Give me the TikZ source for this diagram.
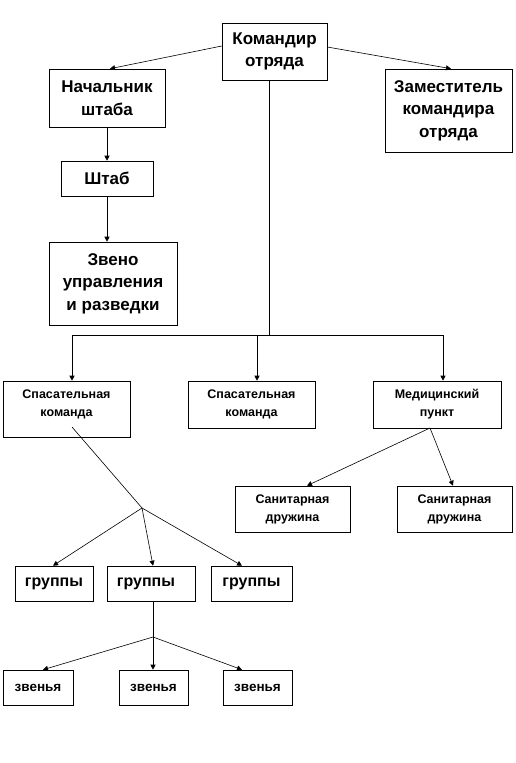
\documentclass[tikz,border=0pt]{standalone}
\usepackage{fontspec}
\setmainfont{Liberation Sans}
\usetikzlibrary{arrows.meta}
\begin{document}
\begin{tikzpicture}[x=1pt,y=-1pt,
  box/.style={draw, line width=0.6pt, inner sep=0pt, align=center, font=\bfseries, anchor=center},
  big/.style={font=\bfseries\fontsize{17}{22.5}\selectfont},
  small/.style={font=\bfseries\fontsize{12.5}{18}\selectfont},
  grp/.style={font=\bfseries\fontsize{16}{18}\selectfont},
  zv/.style={font=\bfseries\fontsize{13.5}{16}\selectfont},
  conn/.style={line width=0.6pt},
  arr/.style={line width=0.6pt, -{Triangle[length=5pt,width=5pt]}}]
\useasboundingbox (0,0) rectangle (515,763);

% boxes
\node[box, big, minimum width=105, minimum height=57] (cmd) at (274.5,51.5) {Командир\\отряда};
\node[box, big, minimum width=116, minimum height=58] (nsh) at (107,98) {Начальник\\штаба};
\node[box, big, minimum width=127, minimum height=83] (zam) at (448.5,110.5) {Заместитель\\командира\\отряда};
\node[box, big, minimum width=92, minimum height=35] (shtab) at (107,178.5) {Штаб};
\node[box, big, minimum width=128, minimum height=83] (zveno) at (113,283.5) {Звено\\управления\\и разведки};

\node[box, minimum width=127, minimum height=56] (sk1) at (66.5,409) {};
\node[small, align=center, inner sep=0pt] (sk1t) at (66.5,404) {Спасательная\\команда};
\node[box, small, minimum width=127, minimum height=47] (sk2) at (251.5,404.5) {Спасательная\\команда};
\node[box, small, minimum width=128, minimum height=47] (med) at (437,404.5) {Медицинский\\пункт};
\node[box, small, minimum width=115, minimum height=46] (sd1) at (292.5,509) {Санитарная\\дружина};
\node[box, small, minimum width=115, minimum height=46] (sd2) at (454.5,509) {Санитарная\\дружина};

\node[box, grp, minimum width=78, minimum height=35] (g1) at (54,583.5) {группы};
\node[box, grp, minimum width=88, minimum height=35] (g2) at (151,583.5) {\hspace*{-10pt}группы};
\node[box, grp, minimum width=81, minimum height=35] (g3) at (251.5,583.5) {группы};

\node[box, zv, minimum width=70, minimum height=35] (z1) at (38,687.5) {звенья};
\node[box, zv, minimum width=69, minimum height=35] (z2) at (153.5,687.5) {звенья};
\node[box, zv, minimum width=69, minimum height=35] (z3) at (257.5,687.5) {звенья};

% junction coordinates
\coordinate (bus) at (269,335);
\coordinate (busL) at (72,335);
\coordinate (busM) at (257,335);
\coordinate (busR) at (443,335);
\coordinate (skstart) at (72,427);
\coordinate (fork1) at (142,508);
\coordinate (fork2) at (153,637);
\coordinate (medstart) at (430,428);

% top level
\draw[arr] (cmd.west |- 0,46) -- (nsh.north -| 110,0);
\draw[arr] (cmd.east |- 0,47) -- (zam.north -| 451,0);
\draw[arr] (nsh.south -| 107,0) -- (shtab.north -| 107,0);
\draw[arr] (shtab.south -| 107,0) -- (zveno.north -| 107,0);

% bus
\draw[conn] (cmd.south -| bus) -- (bus);
\draw[conn] (busL) -- (busR);
\draw[arr] (busL) -- (sk1.north -| busL);
\draw[arr] (busM) -- (sk2.north -| busM);
\draw[arr] (busR) -- (med.north -| busR);

% medical
\draw[arr] (medstart) -- (sd1.north -| 307,0);
\draw[arr] (medstart) -- (sd2.north -| 453,0);

% rescue team to groups
\draw[conn] (skstart) -- (fork1);
\draw[arr] (fork1) -- (g1.north -| 53,0);
\draw[arr] (fork1) -- (g2.north -| 153,0);
\draw[arr] (fork1) -- (g3.north -| 242,0);

% groups to links
\draw[arr] (g2.south -| fork2) -- (z2.north -| fork2);
\draw[arr] (fork2) -- (z1.north -| 43,0);
\draw[arr] (fork2) -- (z3.north -| 242,0);
\end{tikzpicture}
\end{document}
